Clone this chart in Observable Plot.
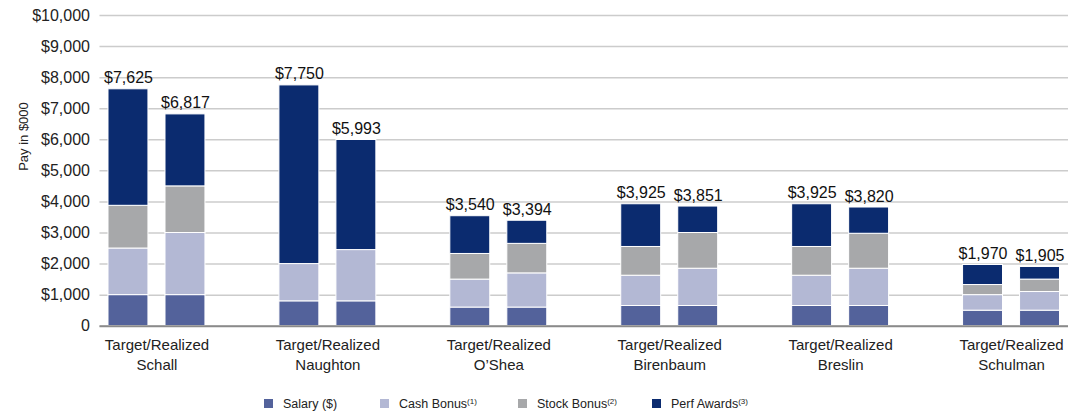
<!DOCTYPE html>
<html><head><meta charset="utf-8">
<script src="https://cdn.jsdelivr.net/npm/d3@7"></script>
<script src="https://cdn.jsdelivr.net/npm/@observablehq/plot@0.6"></script>
<style>
body{margin:0;background:#fff;font-family:"Liberation Sans",Arial,sans-serif;}
#chart{position:relative;width:1068px;height:411px;overflow:hidden;}
#chart svg{display:block;}
.legend{position:absolute;top:396px;left:0;width:1068px;height:15px;font-size:12.5px;color:#222;}
.item{position:absolute;top:0;height:15px;display:flex;align-items:center;white-space:nowrap;}
.sw{width:9px;height:9px;margin-right:10px;flex:none;}
sup{font-size:8px;line-height:0;vertical-align:4px;}
</style>
</head><body>
<div id="chart"></div>
<script>
// ---- data ----
const execs = ["Schall", "Naughton", "O’Shea", "Birenbaum", "Breslin", "Schulman"];
const components = ["Salary ($)", "Cash Bonus", "Stock Bonus", "Perf Awards"];
const colors = ["#53629b", "#b3b8d4", "#a7a8aa", "#0b2b6f"];
// Target pay ($000)
const salaryTarget = [1000, 800, 600, 650, 650, 500];
const cashTarget   = [1500, 1200, 900, 975, 975, 500];
const stockTarget  = [1375, 0, 825, 925, 925, 325];
const perfTarget   = [3750, 5750, 1215, 1375, 1375, 645];
// Realized pay ($000)
const salaryRealized = [1000, 800, 600, 650, 650, 500];
const cashRealized   = [2000, 1650, 1100, 1200, 1200, 600];
const stockRealized  = [1500, 0, 950, 1150, 1125, 400];
const perfRealized   = [2317, 3543, 744, 851, 845, 405];
const yTicks = [0, 1000, 2000, 3000, 4000, 5000, 6000, 7000, 8000, 9000, 10000];
const legendSup = ["", "(1)", "(2)", "(3)"];

// ---- tables ----
const series = {
  Target: [salaryTarget, cashTarget, stockTarget, perfTarget],
  Realized: [salaryRealized, cashRealized, stockRealized, perfRealized]
};
const rows = [];
const totals = [];
for (const kind of ["Target", "Realized"]) {
  execs.forEach((exec, i) => {
    let total = 0;
    components.forEach((comp, c) => {
      const value = series[kind][c][i];
      total += value;
      if (value > 0) rows.push({exec, kind, comp, value});
    });
    totals.push({exec, kind, total});
  });
}
const fmt = d3.format(",");
const barStyle = {x: "exec", y: "value", fill: "comp", order: components, stroke: "white", strokeWidth: 1};

const chart = Plot.plot({
  width: 1068,
  height: 388,
  marginTop: 15,
  marginBottom: 62.3,
  marginLeft: 99.5,
  marginRight: 0,
  style: {fontFamily: "Liberation Sans, Arial, sans-serif", fontSize: "15px", color: "#222", background: "white"},
  x: {domain: execs, paddingInner: 1/3, paddingOuter: 0, round: false},
  y: {domain: [0, 10000]},
  color: {domain: components, range: colors},
  marks: [
    Plot.gridY(yTicks, {stroke: "#cccccc", strokeOpacity: 1, strokeWidth: 1.5}),
    Plot.axisY(yTicks, {tickSize: 0, tickPadding: 10, fontSize: 16, label: null,
      tickFormat: d => d === 0 ? "0" : "$" + fmt(d)}),
    Plot.axisX({tickSize: 0, tickPadding: 10, fontSize: 15, lineHeight: 1.32, label: null,
      tickFormat: d => "Target/Realized\n" + d}),
    Plot.text(["Pay in $000"], {frameAnchor: "left", dx: -76, rotate: -90, fontSize: 13, fill: "#222"}),
    Plot.barY(rows.filter(d => d.kind === "Target"), {...barStyle, insetLeft: 8.5, insetRight: 65.5}),
    Plot.barY(rows.filter(d => d.kind === "Realized"), {...barStyle, insetLeft: 65.5, insetRight: 8.5}),
    Plot.ruleY([0], {stroke: "#8a8a8a", strokeWidth: 2}),
    Plot.text(totals.filter(d => d.kind === "Target"), {x: "exec", y: "total", text: d => "$" + fmt(d.total),
      dx: -28.5, dy: -6, lineAnchor: "bottom", fontSize: 16, fill: "#111"}),
    Plot.text(totals.filter(d => d.kind === "Realized"), {x: "exec", y: "total", text: d => "$" + fmt(d.total),
      dx: 28.5, dy: -6, lineAnchor: "bottom", fontSize: 16, fill: "#111"})
  ]
});
const root = document.getElementById("chart");
root.appendChild(chart);

// ---- legend ----
const legendLeft = [264, 380, 518, 652];
const legend = document.createElement("div");
legend.className = "legend";
components.forEach((comp, i) => {
  const item = document.createElement("div");
  item.className = "item";
  item.style.left = legendLeft[i] + "px";
  const sw = document.createElement("span");
  sw.className = "sw";
  sw.style.background = colors[i];
  const label = document.createElement("span");
  label.textContent = comp;
  if (legendSup[i]) {
    const s = document.createElement("sup");
    s.textContent = legendSup[i];
    label.appendChild(s);
  }
  item.appendChild(sw);
  item.appendChild(label);
  legend.appendChild(item);
});
root.appendChild(legend);
</script>
</body></html>
